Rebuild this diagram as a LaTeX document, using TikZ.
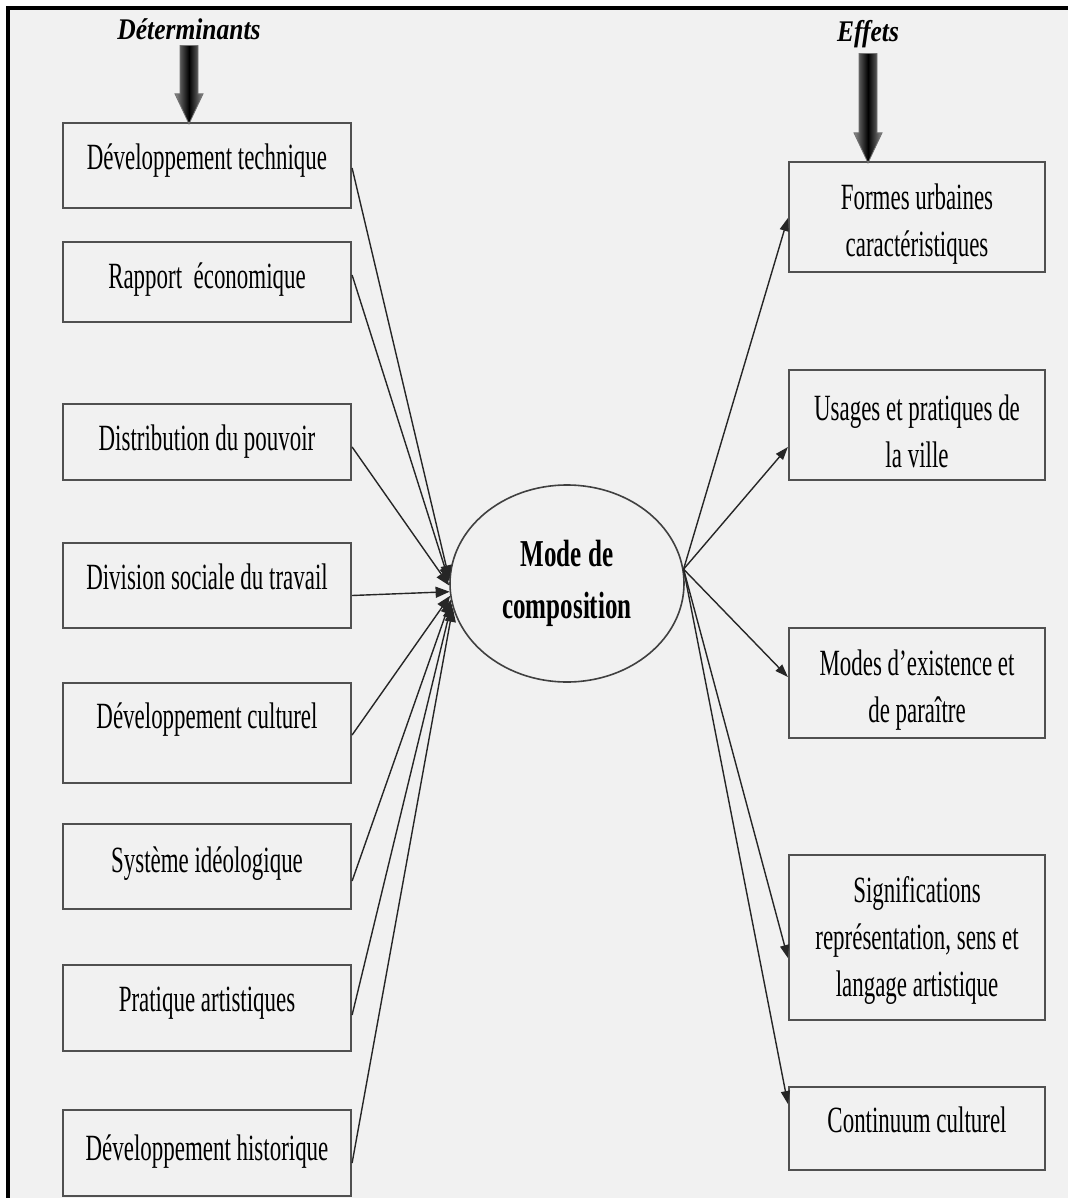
\documentclass[tikz,border=0pt]{standalone}
\usepackage{fontspec}
\setmainfont[FakeStretch=0.62]{Liberation Serif}
\newfontfamily\headfont[FakeStretch=0.85]{Liberation Serif}
\newfontfamily\corefont[FakeStretch=0.66]{Liberation Serif}
\usetikzlibrary{shapes.geometric,arrows.meta,calc}
\definecolor{paper}{HTML}{F1F1F1}
\definecolor{boxline}{HTML}{505050}

% thick shaded arrow from a heading down to a box
\newcommand\fatarrow[2]{%
  \shade[left color=black!45, right color=black!45, middle color=black,
         draw=black!55, line width=0.8pt]
    let \p1=(#1.south), \p2=(#2.north) in
    (\x1-9pt,\y1-5pt) -- (\x1+9pt,\y1-5pt) -- (\x1+9pt,\y2+28pt) --
    (\x1+14pt,\y2+28pt) -- (\x1,\y2-2pt) -- (\x1-14pt,\y2+28pt) --
    (\x1-9pt,\y2+28pt) -- cycle;}

\begin{document}
\begin{tikzpicture}[x=1pt,y=-1pt,
  lbox/.style={draw=boxline, line width=2.2pt, minimum width=288pt, inner sep=0pt},
  rbox/.style={draw=boxline, line width=2.2pt, minimum width=256pt, inner sep=0pt},
  txt/.style={font=\fontsize{37}{47}\selectfont, inner sep=0pt, align=center},
  hdr/.style={font=\headfont\bfseries\itshape\fontsize{30}{36}\selectfont, inner sep=0pt, anchor=base},
  link/.style={draw=black!85, line width=1.4pt, -{Triangle[length=13pt,width=9pt]}},
  inlink/.style={link, -{Triangle[length=14pt,width=11pt]}},
]
\useasboundingbox (0,0) rectangle (1068,1198);
\fill[white] (0,0) rectangle (1068,1198);
\fill[paper] (8,8) rectangle (1068,1198);
\draw[line width=4pt] (8,1198) -- (8,8) -- (1068,8);

% headings
\node[hdr] (det) at (189,40) {Déterminants};
\node[hdr] (eff) at (868,42) {Effets};

% determinants (left column)
\node[lbox, minimum height=85pt] (d1) at (207,165.5) {};
\node[lbox, minimum height=80pt] (d2) at (207,282) {};
\node[lbox, minimum height=76pt] (d3) at (207,442) {};
\node[lbox, minimum height=85pt] (d4) at (207,585.5) {};
\node[lbox, minimum height=100pt] (d5) at (207,733) {};
\node[lbox, minimum height=85pt] (d6) at (207,866.5) {};
\node[lbox, minimum height=86pt] (d7) at (207,1008) {};
\node[lbox, minimum height=86pt] (d8) at (207,1153) {};

\node[txt, anchor=base] (t1) at (207,170) {Développement technique};
\node[txt, anchor=base] (t2) at (207,288) {Rapport\ \ économique};
\node[txt, anchor=base] (t3) at (207,450) {Distribution du pouvoir};
\node[txt, anchor=base] (t4) at (207,589) {Division sociale du travail};
\node[txt, anchor=base] (t5) at (207,728) {Développement culturel};
\node[txt, anchor=base] (t6) at (207,872) {Système idéologique};
\node[txt, anchor=base] (t7) at (207,1011) {Pratique artistiques};
\node[txt, anchor=base] (t8) at (207,1160) {Développement historique};

% effects (right column)
\node[rbox, minimum height=110pt] (r1) at (917,217) {};
\node[rbox, minimum height=110pt] (r2) at (917,425) {};
\node[rbox, minimum height=110pt] (r3) at (917,683) {};
\node[rbox, minimum height=165pt] (r4) at (917,937.5) {};
\node[rbox, minimum height=83pt] (r5) at (917,1128.5) {};

\node[txt] (u1) at (917,224) {Formes urbaines\\caractéristiques};
\node[txt] (u2) at (917,431) {Usages et pratiques de\\la ville};
\node[txt] (u3) at (917,690) {Modes d’existence et\\de paraître};
\node[txt] (u4) at (917,940) {Significations\\représentation, sens et\\langage artistique};
\node[txt, anchor=base] (u5) at (917,1132) {Continuum culturel};

% central ellipse
\node[ellipse, draw=black!75, line width=1.6pt, minimum width=234pt,
      minimum height=197pt, inner sep=0pt, align=center,
      font=\corefont\bfseries\fontsize{38}{52}\selectfont] (mc) at (567,583.5)
      {Mode de\\composition};

% heading arrows
\fatarrow{det}{d1}
\fatarrow{eff}{r1}

% determinants into the mode of composition
\draw[inlink] ($(d1.east)+(0,2.5)$) -- (mc.178);
\draw[inlink] ($(d2.east)+(0,-7)$) -- (mc.179.5);
\draw[inlink] ($(d3.east)+(0,5)$) -- (mc.181.5);
\draw[inlink] ($(d4.east)+(0,10)$) -- (mc.184.5);
\draw[inlink] ($(d5.east)+(0,2)$) -- (mc.186.5);
\draw[inlink] ($(d6.east)+(0,14.5)$) -- (mc.188.5);
\draw[inlink] ($(d7.east)+(0,7)$) -- (mc.190.5);
\draw[inlink] ($(d8.east)+(0,10)$) -- (mc.192.5);

% mode of composition out to the effects
\draw[link] (mc.7) -- ($(r1.west)+(0,1)$);
\draw[link] (mc.7) -- ($(r2.west)+(0,22)$);
\draw[link] (mc.7) -- ($(r3.west)+(0,-6)$);
\draw[link] (mc.7) -- ($(r4.west)+(0,20.5)$);
\draw[link] (mc.7) -- ($(r5.west)+(0,-24.5)$);
\end{tikzpicture}
\end{document}
